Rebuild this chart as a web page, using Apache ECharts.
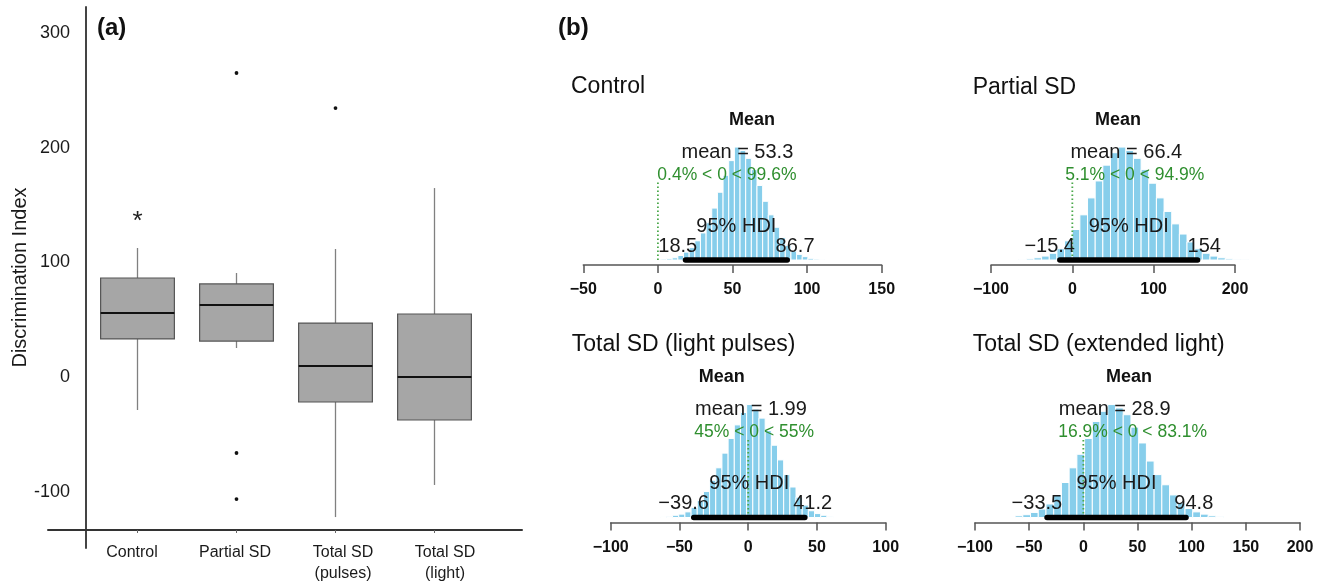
<!DOCTYPE html>
<html><head><meta charset="utf-8">
<script src="https://cdn.jsdelivr.net/npm/echarts@6/dist/echarts.min.js"></script>
<style>html,body{margin:0;padding:0;background:#fff}#c{width:1321px;height:585px}</style>
</head><body><div id="c"></div>
<script>
// ---------- Panel (a): box plot ----------
const groups = ['Control', 'Partial SD', 'Total SD\n(pulses)', 'Total SD\n(light)'];
const boxMin = [-28.8, 25.3, -122.2, -94.2];
const boxQ1 = [33.2, 31.4, -21.8, -37.5];
const boxMed = [55.8, 62.8, 9.6, 0.0];
const boxQ3 = [86.4, 81.2, 47.1, 55.0];
const boxMax = [112.6, 90.8, 111.7, 164.9];
const outlierGroup = [1, 1, 1, 2];
const outlierValue = [265.3, -66.3, -106.5, 234.7];
const extremeGroup = [0];
const extremeValue = [141.4];
const yTicksA = [-100, 0, 100, 200, 300];

// ---------- Panel (b): posterior histograms ----------
const panelTitles = ['Control', 'Partial SD', 'Total SD (light pulses)', 'Total SD (extended light)'];
const postMean = [53.3, 66.4, 1.99, 28.9];
const hdiLow = [18.5, -15.4, -39.6, -33.5];
const hdiHigh = [86.7, 154, 41.2, 94.8];
const pctBelowZero = [0.4, 5.1, 45, 16.9];
const pctAboveZero = [99.6, 94.9, 55, 83.1];
const xTicksB = [[-50, 0, 50, 100, 150], [-100, 0, 100, 200], [-100, -50, 0, 50, 100], [-100, -50, 0, 50, 100, 150, 200]];
const binStart = [-1.8, -66, -64, -63];
const binWidth = [3.79, 9.41, 4.49, 7.13];
const histControl = [0.5, 0.8, 1.2, 2, 4, 7, 11, 17, 24, 33, 46, 60, 75, 88, 100, 97, 90, 80, 66, 52, 40, 29, 20, 13, 8, 5, 3, 1.5, 0.8, 0.4];
const histPartial = [0.5, 1, 2, 3.5, 6, 10, 17, 27, 40, 55, 70, 84, 95, 100, 97, 90, 80, 68, 55, 43, 32, 23, 16, 10, 6, 3.5, 2, 1, 0.6, 0.3];
const histPulses = [0.5, 1, 2, 3, 5, 9, 15, 23, 33, 44, 57, 70, 82, 93, 100, 96, 88, 77, 64, 51, 38, 27, 18, 11, 6, 3.5, 2, 1];
const histExtended = [1.5, 2.5, 4.5, 7.5, 12, 20, 31, 44, 56, 70, 85, 94, 100, 97, 91, 80, 66, 50, 38, 29, 20, 13, 8, 5, 3, 1.5, 0.7];
const histCounts = [histControl, histPartial, histPulses, histExtended];

// ---------- layout / style ----------
const FONT = '"Liberation Sans", Arial, sans-serif';
const GREEN = '#2f8f2f';
const BLUE = '#87CEEB';
const panelXRange = [[-50, 150], [-100, 200], [-100, 100], [-100, 200]];
const panelBox = [
  {left: 583.3, width: 298.4, top: 130},
  {left: 991, width: 244, top: 130},
  {left: 610.7, width: 275, top: 387.5},
  {left: 975, width: 325, top: 387.5}
];
const titlePos = [[571, 87], [972.7, 88], [571.7, 345], [972.7, 345]];
const meanTitlePos = [[752, 120], [1118, 120], [721.7, 377], [1129, 377]];
const labelShift = [-5.5, -1.5, 7.5, 10.5];

const mctx = document.createElement('canvas').getContext('2d');
function tw(s, font) { mctx.font = font; return mctx.measureText(s).width; }
function fmt(v) { return String(v).replace('-', '\u2212'); }

const chart = echarts.init(document.getElementById('c'), null, {renderer: 'canvas'});

const grids = [
  {left: 88, top: 7, width: 396, height: 523},   // boxes
  {left: 48, top: 7, width: 474, height: 523},   // x axis line
  {left: 86, top: 7, width: 10, height: 541}     // y axis
];
panelBox.forEach(p => grids.push({left: p.left, top: p.top, width: p.width, height: 135}));

const rich = {};
labelShift.forEach((d, i) => {
  rich['s' + i] = {fontSize: 16, fontFamily: FONT, color: '#1a1a1a', lineHeight: 21,
    padding: d < 0 ? [0, -2 * d, 0, 0] : [0, 0, 0, 2 * d]};
});

const xAxes = [
  {gridIndex: 0, type: 'category', data: groups, axisLine: {show: false, onZero: false},
   axisTick: {show: true, alignWithLabel: true, length: 3, lineStyle: {color: '#666'}},
   axisLabel: {margin: 12, interval: 0,
     formatter: (v, idx) => v.split('\n').map(l => '{s' + idx + '|' + l + '}').join('\n'), rich: rich}},
  {gridIndex: 1, type: 'value', min: 0, max: 1, axisLine: {show: true, onZero: false, lineStyle: {color: '#333', width: 2}},
   axisTick: {show: false}, axisLabel: {show: false}, splitLine: {show: false}},
  {gridIndex: 2, type: 'value', show: false, min: 0, max: 1}
];
const yAxes = [
  {gridIndex: 0, type: 'value', show: false, min: -133.5, max: 322.9, splitLine: {show: false}},
  {gridIndex: 1, type: 'value', show: false, min: 0, max: 1},
  {gridIndex: 2, type: 'value', min: -149.2, max: 322.9,
   axisLine: {show: true, onZero: false, lineStyle: {color: '#444', width: 2}}, axisTick: {show: false},
   splitLine: {show: false},
   axisLabel: {customValues: yTicksA, fontSize: 18, fontFamily: FONT, color: '#1a1a1a', margin: 16},
   name: 'Discrimination Index', nameLocation: 'middle', nameGap: 56,
   nameTextStyle: {fontSize: 20, fontFamily: FONT, color: '#1a1a1a'}}
];
panelBox.forEach((p, i) => {
  xAxes.push({gridIndex: 3 + i, type: 'value', min: panelXRange[i][0], max: panelXRange[i][1],
    interval: xTicksB[i][1] - xTicksB[i][0],
    axisLine: {show: true, onZero: false, lineStyle: {color: '#555', width: 1.5}},
    axisTick: {show: true, customValues: xTicksB[i], length: 8, lineStyle: {color: '#555', width: 1.5}},
    axisLabel: {customValues: xTicksB[i], formatter: v => fmt(v), fontSize: 16, fontWeight: 'bold',
      fontFamily: FONT, color: '#111', margin: 17},
    splitLine: {show: false}});
  yAxes.push({gridIndex: 3 + i, type: 'value', show: false, min: -4.4, max: 115.1});
});

const series = [];
// boxes
series.push({
  type: 'custom', xAxisIndex: 0, yAxisIndex: 0, z: 2,
  data: groups.map((g, i) => [i, boxMin[i], boxQ1[i], boxMed[i], boxQ3[i], boxMax[i]]),
  encode: {x: 0, y: [1, 2, 3, 4, 5]},
  renderItem: (params, api) => {
    const x = api.value(0);
    const pMin = api.coord([x, api.value(1)]);
    const pQ1 = api.coord([x, api.value(2)]);
    const pMed = api.coord([x, api.value(3)]);
    const pQ3 = api.coord([x, api.value(4)]);
    const pMax = api.coord([x, api.value(5)]);
    const bw = api.size([1, 0])[0] * 0.745;
    const cx = pMed[0];
    return {type: 'group', children: [
      {type: 'line', shape: {x1: cx, y1: pQ3[1], x2: cx, y2: pMax[1]}, style: {stroke: '#808080', lineWidth: 1.3}},
      {type: 'line', shape: {x1: cx, y1: pQ1[1], x2: cx, y2: pMin[1]}, style: {stroke: '#808080', lineWidth: 1.3}},
      {type: 'rect', shape: {x: cx - bw / 2, y: pQ3[1], width: bw, height: pQ1[1] - pQ3[1]},
       style: {fill: '#a6a6a6', stroke: '#555', lineWidth: 1.2}},
      {type: 'line', shape: {x1: cx - bw / 2, y1: pMed[1], x2: cx + bw / 2, y2: pMed[1]}, style: {stroke: '#111', lineWidth: 2}}
    ]};
  }
});
// outliers (dots) and extreme value (asterisk)
const pointData = outlierGroup.map((g, i) => [g, outlierValue[i], 0])
  .concat(extremeGroup.map((g, i) => [g, extremeValue[i], 1]));
series.push({
  type: 'custom', xAxisIndex: 0, yAxisIndex: 0, z: 3,
  data: pointData,
  encode: {x: 0, y: 1},
  renderItem: (params, api) => {
    const p = api.coord([api.value(0), api.value(1)]);
    if (api.value(2) === 1) {
      return {type: 'text', x: p[0], y: p[1] + 7,
        style: {text: '*', font: '26px ' + FONT, fill: '#222', align: 'center', verticalAlign: 'middle'}};
    }
    return {type: 'circle', shape: {cx: p[0], cy: p[1], r: 1.9}, style: {fill: '#111'}};
  }
});

// histograms + annotations
histCounts.forEach((counts, i) => {
  series.push({
    type: 'custom', xAxisIndex: 3 + i, yAxisIndex: 3 + i, z: 2, clip: false,
    data: counts.map((h, k) => [binStart[i] + k * binWidth[i], binStart[i] + (k + 1) * binWidth[i], h]),
    encode: {x: [0, 1], y: 2},
    renderItem: (params, api) => {
      const p0 = api.coord([api.value(0), 0]);
      const p1 = api.coord([api.value(1), api.value(2)]);
      return {type: 'rect', shape: {x: p0[0], y: p1[1], width: p1[0] - p0[0], height: p0[1] - p1[1]},
        style: {fill: BLUE, stroke: '#fff', lineWidth: 1}};
    }
  });
  series.push({
    type: 'custom', xAxisIndex: 3 + i, yAxisIndex: 3 + i, z: 5, clip: false,
    data: [[postMean[i], 0]],
    encode: {x: 0, y: 1},
    renderItem: (params, api) => {
      const peak = Math.max.apply(null, counts);
      const c0 = api.coord([0, 0]);
      const cg = api.coord([0, 0.7 * peak]);
      const cm = api.coord([postMean[i], 0.9 * peak]);
      const lo = api.coord([hdiLow[i], 0]);
      const hi = api.coord([hdiHigh[i], 0]);
      const fBig = '20px ' + FONT;
      const fGreen = '17.5px ' + FONT;
      const gStr = fmt(pctBelowZero[i]) + '% < 0 < ' + fmt(pctAboveZero[i]) + '%';
      const gw = tw(gStr, fGreen);
      const loStr = fmt(hdiLow[i]), hiStr = fmt(hdiHigh[i]);
      const lw = tw(loStr, fBig), hw = tw(hiStr, fBig);
      return {type: 'group', children: [
        {type: 'line', shape: {x1: c0[0], y1: c0[1], x2: cg[0], y2: cg[1]},
         style: {stroke: '#4aa84a', lineWidth: 1.8, lineDash: [1.5, 2.5]}},
        {type: 'line', shape: {x1: lo[0], y1: lo[1], x2: hi[0], y2: hi[1]},
         style: {stroke: '#000', lineWidth: 5.5, lineCap: 'round'}},
        {type: 'text', x: cm[0], y: cm[1] - 6,
         style: {text: 'mean = ' + fmt(postMean[i]), font: fBig, fill: '#1a1a1a', align: 'center', verticalAlign: 'middle'}},
        {type: 'text', x: cg[0] - gw * pctBelowZero[i] / 100, y: cg[1] - 6,
         style: {text: gStr, font: fGreen, fill: GREEN, align: 'left', verticalAlign: 'middle'}},
        {type: 'text', x: (lo[0] + hi[0]) / 2, y: lo[1] - 34,
         style: {text: '95% HDI', font: fBig, fill: '#1a1a1a', align: 'center', verticalAlign: 'middle'}},
        {type: 'text', x: lo[0] - 0.7 * lw, y: lo[1] - 14,
         style: {text: loStr, font: fBig, fill: '#1a1a1a', align: 'left', verticalAlign: 'middle'}},
        {type: 'text', x: hi[0] - 0.3 * hw, y: hi[1] - 14,
         style: {text: hiStr, font: fBig, fill: '#1a1a1a', align: 'left', verticalAlign: 'middle'}}
      ]};
    }
  });
});

const graphics = [
  {type: 'text', left: 97, top: 16, style: {text: '(a)', font: 'bold 24px ' + FONT, fill: '#111'}},
  {type: 'text', left: 558, top: 16, style: {text: '(b)', font: 'bold 24px ' + FONT, fill: '#111'}}
];
panelTitles.forEach((t, i) => {
  graphics.push({type: 'text', x: titlePos[i][0], y: titlePos[i][1],
    style: {text: t, font: '23px ' + FONT, fill: '#111', align: 'left', verticalAlign: 'middle'}});
  graphics.push({type: 'text', x: meanTitlePos[i][0], y: meanTitlePos[i][1],
    style: {text: 'Mean', font: 'bold 18px ' + FONT, fill: '#111', align: 'center', verticalAlign: 'middle'}});
});

chart.setOption({
  animation: false,
  backgroundColor: '#fff',
  textStyle: {fontFamily: FONT},
  grid: grids,
  xAxis: xAxes,
  yAxis: yAxes,
  series: series,
  graphic: graphics
});
</script>
</body></html>
